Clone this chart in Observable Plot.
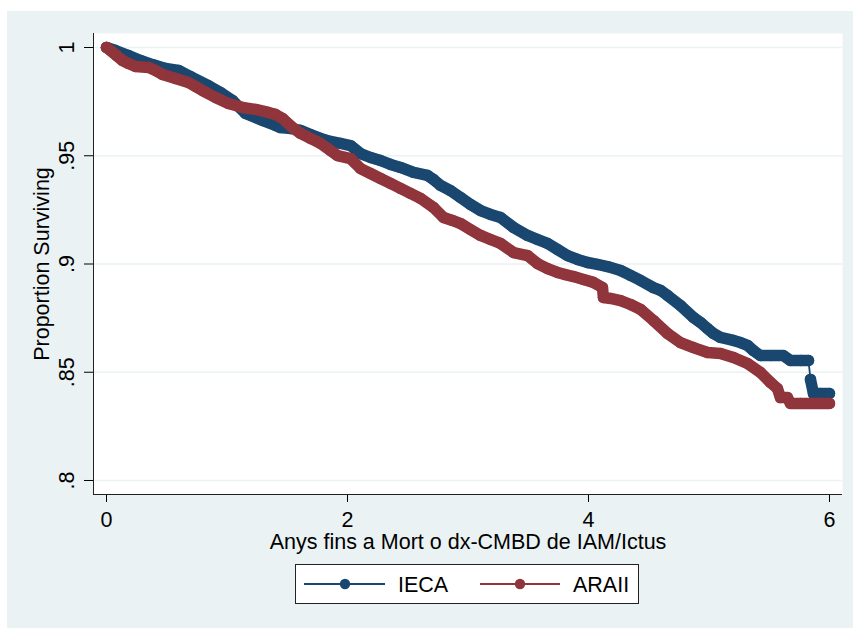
<!DOCTYPE html>
<html><head><meta charset="utf-8">
<script src="https://cdn.jsdelivr.net/npm/d3@7"></script>
<script src="https://cdn.jsdelivr.net/npm/@observablehq/plot@0.6"></script>
<style>
body{margin:0;background:#fff;font-family:"Liberation Sans",Arial,sans-serif;}
#bg{position:absolute;left:7px;top:11px;width:846px;height:617px;background:#eaf2f3;}
#chart{position:absolute;left:0;top:0;}
#legend{position:absolute;left:295px;top:564px;width:342px;height:38px;border:1px solid #222;background:#fff;}
#legend svg{display:block;}
</style></head><body>
<div id="bg"></div><div id="chart"></div><div id="legend"></div>
<script>
const seriesNames = ["IECA", "ARAII"];
const seriesColors = ["#1a476f", "#90353b"];

const iecaTime = [0,0.075,0.183,0.282,0.382,0.490,0.598,0.697,0.846,0.946,1.046,1.154,1.295,1.402,1.444,1.527,1.610,1.693,1.776,1.859,1.942,2.025,2.108,2.191,2.274,2.357,2.440,2.548,2.664,2.714,2.772,2.855,2.938,3.021,3.104,3.187,3.270,3.378,3.494,3.577,3.660,3.743,3.826,3.909,3.992,4.075,4.158,4.266,4.349,4.432,4.539,4.598,4.656,4.763,4.871,4.929,4.988,5.037,5.095,5.203,5.261,5.320,5.369,5.427,5.510,5.618,5.676,5.759,5.826,5.842,5.867,5.925,6.000];
const iecaSurv = [1.0000,0.9986,0.9963,0.9940,0.9921,0.9903,0.9894,0.9866,0.9824,0.9792,0.9755,0.9695,0.9663,0.9640,0.9630,0.9626,0.9617,0.9598,0.9580,0.9566,0.9557,0.9547,0.9510,0.9492,0.9478,0.9460,0.9446,0.9423,0.9409,0.9390,0.9363,0.9339,0.9307,0.9275,0.9247,0.9229,0.9215,0.9169,0.9132,0.9113,0.9095,0.9067,0.9039,0.9021,0.9007,0.8998,0.8988,0.8970,0.8947,0.8924,0.8891,0.8878,0.8855,0.8808,0.8753,0.8730,0.8702,0.8679,0.8661,0.8647,0.8637,0.8624,0.8600,0.8577,0.8577,0.8577,0.8554,0.8554,0.8554,0.8467,0.8402,0.8402,0.8402];

const araiiTime = [0,0.033,0.083,0.133,0.183,0.241,0.349,0.407,0.465,0.573,0.680,0.739,0.797,0.905,1.012,1.129,1.237,1.344,1.402,1.461,1.544,1.610,1.693,1.776,1.859,1.917,2.025,2.108,2.191,2.274,2.357,2.440,2.523,2.606,2.714,2.797,2.871,2.938,3.021,3.104,3.187,3.270,3.378,3.494,3.577,3.660,3.743,3.809,3.876,3.959,4.041,4.116,4.124,4.183,4.266,4.349,4.432,4.539,4.656,4.763,4.871,4.988,5.095,5.203,5.320,5.427,5.510,5.568,5.593,5.651,5.676,5.759,5.842,5.925,6.000];
const araiiSurv = [1.0000,0.9986,0.9963,0.9940,0.9926,0.9912,0.9908,0.9894,0.9875,0.9857,0.9838,0.9820,0.9801,0.9769,0.9741,0.9723,0.9714,0.9700,0.9691,0.9672,0.9630,0.9603,0.9580,0.9557,0.9524,0.9501,0.9487,0.9441,0.9418,0.9395,0.9372,0.9349,0.9326,0.9303,0.9261,0.9215,0.9201,0.9187,0.9159,0.9132,0.9113,0.9095,0.9053,0.9039,0.9002,0.8979,0.8961,0.8951,0.8942,0.8928,0.8915,0.8891,0.8845,0.8841,0.8831,0.8813,0.8790,0.8739,0.8679,0.8637,0.8614,0.8591,0.8587,0.8568,0.8540,0.8499,0.8453,0.8425,0.8383,0.8383,0.8356,0.8356,0.8356,0.8356,0.8356];

const xTicks = [0, 2, 4, 6];
const xTickLabels = ["0", "2", "4", "6"];
const yTicks = [0.8, 0.85, 0.9, 0.95, 1];
const yTickLabels = [".8", ".85", ".9", ".95", "1"];
const xTitle = "Anys fins a Mort o dx-CMBD de IAM/Ictus";
const yTitle = "Proportion Surviving";

const xDomain = [-0.108, 6.108];
const yDomain = [0.79353, 1.00647];
const FS = 21.5;
const axisColor = "#222";
const gridColor = "#eaf2f3";

// build rows; "seg" splits the dense-marker band where a single large drop occurs
function rows(times, surv) {
  let seg = 0;
  return times.map((t, i) => {
    if (i > 0 && surv[i - 1] - surv[i] > 0.008) seg++;
    return {t, s: surv[i], seg};
  });
}
const ieca = rows(iecaTime, iecaSurv);
const araii = rows(araiiTime, araiiSurv);

function seriesMarks(data, color) {
  return [
    Plot.line(data, {x: "t", y: "s", z: "seg", curve: "linear", stroke: color, strokeWidth: 11.5, strokeLinecap: "round", strokeLinejoin: "round"}),
    Plot.line(data, {x: "t", y: "s", curve: "linear", stroke: color, strokeWidth: 1.8}),
    Plot.dot(data, {x: "t", y: "s", r: 5.7, fill: color})
  ];
}

const chart = Plot.plot({
  width: 853,
  height: 560,
  marginLeft: 93,
  marginRight: 11,
  marginTop: 33,
  marginBottom: 66,
  style: {background: "transparent", fontFamily: "'Liberation Sans', Arial, sans-serif", overflow: "visible"},
  x: {domain: xDomain, ticks: xTicks, tickSize: 8, tickFormat: () => "", label: null},
  y: {domain: yDomain, ticks: yTicks, tickSize: 9, tickFormat: () => "", label: null},
  marks: [
    Plot.frame({fill: "white", stroke: "none"}),
    Plot.ruleY(yTicks, {stroke: gridColor, strokeWidth: 1.6}),
    ...seriesMarks(ieca, seriesColors[0]),
    ...seriesMarks(araii, seriesColors[1]),
    Plot.ruleX([xDomain[0]], {stroke: axisColor, strokeWidth: 1}),
    Plot.ruleY([yDomain[0]], {stroke: axisColor, strokeWidth: 1}),
    Plot.text(xTicks, {x: d => d, frameAnchor: "bottom", text: (d, i) => xTickLabels[i], dy: 26, lineAnchor: "middle", fontSize: FS, fill: "#000"}),
    Plot.text(yTicks, {y: d => d, frameAnchor: "left", text: (d, i) => yTickLabels[i], rotate: -90, dx: -26.5, lineAnchor: "middle", textAnchor: "middle", fontSize: FS, fill: "#000"}),
    Plot.text([xTitle], {frameAnchor: "bottom", text: d => d, dy: 48, lineAnchor: "middle", fontSize: FS, fill: "#000"}),
    Plot.text([yTitle], {frameAnchor: "left", text: d => d, rotate: -90, dx: -51, lineAnchor: "middle", textAnchor: "middle", fontSize: FS, fill: "#000"})
  ]
});
document.getElementById("chart").appendChild(chart);

// legend
const lg = d3.select("#legend").append("svg").attr("width", 342).attr("height", 38);
const entries = [
  {x0: 8, x1: 89, cx: 49, tx: 102},
  {x0: 184, x1: 264, cx: 224, tx: 277}
];
entries.forEach((e, i) => {
  lg.append("line").attr("x1", e.x0).attr("x2", e.x1).attr("y1", 19).attr("y2", 19)
    .attr("stroke", seriesColors[i]).attr("stroke-width", 1.8);
  lg.append("circle").attr("cx", e.cx).attr("cy", 19).attr("r", 5.2).attr("fill", seriesColors[i]);
  lg.append("text").attr("x", e.tx).attr("y", 19).attr("dy", "0.35em")
    .attr("font-size", FS).attr("font-family", "'Liberation Sans', Arial, sans-serif")
    .attr("fill", "#000").text(seriesNames[i]);
});
</script>
</body></html>
